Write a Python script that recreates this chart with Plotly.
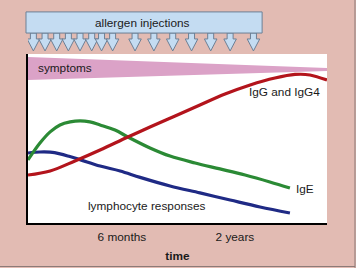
import plotly.graph_objects as go

# ---- data (x: time 0-100, y: response 0-100) ----
igg_x = [0, 7.4, 15.7, 24.1, 33.4, 40.8, 49.2, 57.5, 65.9, 74.3, 82.6, 89.3, 94.3, 100]
igg_y = [28.4, 30.8, 36.7, 43.2, 50.9, 56.8, 63.3, 69.8, 76.3, 81.7, 85.8, 87.9, 87.6, 84.6]

ige_x = [0, 4.0, 7.4, 10.7, 14.1, 17.4, 20.7, 24.1, 29.1, 33.4, 40.8, 47.5, 55.9, 64.2, 72.6, 80.9, 87.6]
ige_y = [37.3, 47.3, 53.9, 58.0, 59.8, 60.4, 59.8, 58.0, 55.0, 50.9, 44.4, 39.6, 35.5, 32.0, 28.4, 24.3, 20.7]

lym_x = [0, 4.0, 7.4, 10.7, 14.0, 17.4, 24.1, 30.8, 37.5, 47.5, 57.5, 67.6, 77.6, 87.6]
lym_y = [41.4, 42.0, 41.9, 40.9, 39.3, 37.5, 33.7, 30.8, 27.0, 21.9, 17.8, 13.6, 9.5, 5.9]

symptoms_x = [0, 100]
symptoms_top = [98.2, 91.7]
symptoms_bottom = [84.6, 89.9]

injection_times = [1.8, 5.7, 9.6, 13.5, 17.4, 21.3, 24.6, 28.3,
                   35.8, 42.1, 48.4, 54.7, 61.1, 67.6, 75.4]

tick_vals = [31.4, 69.2]
tick_text = ["6 months", "2 years"]

FONT = "Liberation Sans, Arial, sans-serif"
TXT = "#1a1a1a"
FS = 11.8

fig = go.Figure()

# symptoms wedge
fig.add_trace(go.Scatter(
    x=symptoms_x + symptoms_x[::-1],
    y=symptoms_top + symptoms_bottom[::-1],
    fill="toself", fillcolor="#dba2c7", line=dict(width=0),
    mode="lines", hoverinfo="skip", showlegend=False))

for xs, ys, col in [(lym_x, lym_y, "#1f2a85"),
                    (ige_x, ige_y, "#2b8a35"),
                    (igg_x, igg_y, "#b3141c")]:
    fig.add_trace(go.Scatter(x=xs, y=ys, mode="lines",
                             line=dict(color=col, width=3.2, shape="spline", smoothing=1.0),
                             hoverinfo="skip", showlegend=False))

shapes = []
BOX_FILL = "#c4dcf2"
BOX_LINE = "#6c8096"
# injection arrows (stem + head)
for t in injection_times:
    path = (f"M {t-1.0},1.124 L {t+1.0},1.124 L {t+1.0},1.089 L {t+2.1},1.089 "
            f"L {t},1.018 L {t-2.1},1.089 L {t-1.0},1.089 Z")
    shapes.append(dict(type="path", xref="x", yref="paper", path=path,
                       fillcolor=BOX_FILL, line=dict(color=BOX_LINE, width=1)))
# allergen box
shapes.append(dict(type="rect", xref="paper", yref="paper",
                   x0=-0.0067, x1=0.783, y0=1.124, y1=1.249,
                   fillcolor=BOX_FILL, line=dict(color=BOX_LINE, width=1)))
# outer frame (right & bottom)
shapes.append(dict(type="line", xref="paper", yref="paper",
                   x0=1.0936, x1=1.0936, y0=-0.265, y1=1.33,
                   line=dict(color="#8c7a77", width=1)))
shapes.append(dict(type="line", xref="paper", yref="paper",
                   x0=-0.1, x1=1.0936, y0=-0.2574, y1=-0.2574,
                   line=dict(color="#8c7a77", width=1)))

def ann(text, x, y, xref="x", yref="y", xanchor="center"):
    return dict(text=text, xref=xref, yref=yref, x=x, y=y, xanchor=xanchor,
                yanchor="middle", showarrow=False,
                font=dict(size=FS, color=TXT, family=FONT))

annotations = [
    ann("allergen injections", 0.383, 1.186, "paper", "paper"),
    ann("symptoms", 2.7, 91.7, xanchor="left"),
    ann("IgG and IgG4", 98.3, 77.5, xanchor="right"),
    ann("IgE", 89.0, 20.1, xanchor="left"),
    ann("lymphocyte responses", 19.4, 10.1, xanchor="left"),
]

fig.update_layout(
    width=356, height=268,
    margin=dict(l=28, r=29, t=54, b=45, autoexpand=False),
    paper_bgcolor="#e2bbb3", plot_bgcolor="white",
    shapes=shapes, annotations=annotations,
    font=dict(family=FONT, color=TXT, size=FS),
    xaxis=dict(range=[0, 100], showgrid=False, zeroline=False, automargin=False,
               showline=True, linecolor="black", linewidth=1.5,
               tickvals=tick_vals, ticktext=tick_text, ticks="",
               ticklabelstandoff=2,
               tickfont=dict(size=FS, color=TXT, family=FONT),
               title=dict(text="<b>time</b>", standoff=9,
                          font=dict(size=FS, color=TXT, family=FONT))),
    yaxis=dict(range=[0, 100], showgrid=False, zeroline=False, automargin=False,
               showline=True, linecolor="black", linewidth=1.5,
               showticklabels=False, ticks=""),
)

fig.write_html("out.html")
